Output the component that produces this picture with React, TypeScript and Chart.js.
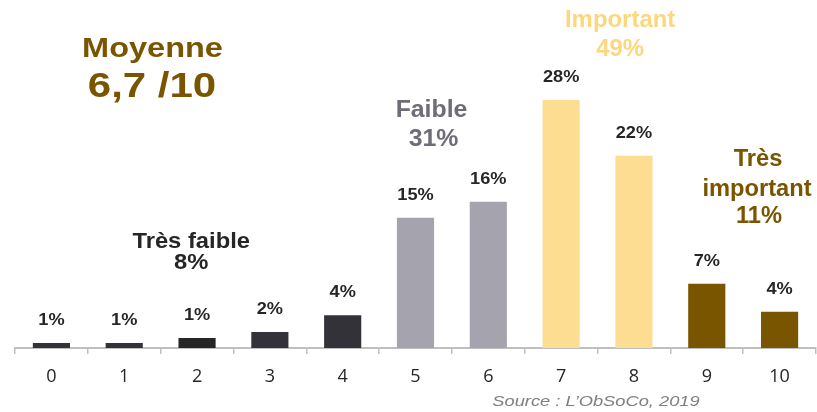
import React, { useEffect, useRef } from "react";
import { Chart, registerables } from "chart.js";

Chart.register(...registerables);

const categories = ["0", "1", "2", "3", "4", "5", "6", "7", "8", "9", "10"];
const values = [0.56, 0.56, 1.13, 1.8, 3.7, 14.7, 16.5, 28, 21.7, 7.26, 4.1];
const valueLabels = ["1%", "1%", "1%", "2%", "4%", "15%", "16%", "28%", "22%", "7%", "4%"];
const barColors = [
  "#333238", "#333238", "#262626", "#333238", "#333238",
  "#a5a4ae", "#a5a4ae",
  "#fddd92", "#fddd92",
  "#7a5500", "#7a5500",
];
const averageTitle = "Moyenne";
const averageValue = "6,7 /10";
const groupTresFaible = ["Très faible", "8%"];
const groupFaible = ["Faible", "31%"];
const groupImportant = ["Important", "49%"];
const groupTresImportant = ["Très", "important", "11%"];
const sourceText = "Source : L\u2019ObSoCo, 2019";

const BROWN = "#7a5500";
const AR = "'Liberation Sans', Arial, sans-serif";

function stretchText(
  ctx: CanvasRenderingContext2D,
  text: string,
  x: number,
  y: number,
  font: string,
  color: string,
  sx: number
) {
  ctx.save();
  ctx.font = font;
  ctx.fillStyle = color;
  ctx.textAlign = "center";
  ctx.textBaseline = "alphabetic";
  ctx.translate(x, y);
  ctx.scale(sx, 1);
  ctx.fillText(text, 0, 0);
  ctx.restore();
}

const annotationPlugin = {
  id: "annotations",
  afterDatasetsDraw(chart: any) {
    const ctx: CanvasRenderingContext2D = chart.ctx;
    const xs = chart.scales.x;
    const meta = chart.getDatasetMeta(0);
    // value labels
    meta.data.forEach((bar: any, i: number) => {
      stretchText(ctx, valueLabels[i], bar.x, bar.y - 18, `bold 17px ${AR}`, "#262626", 1.07);
    });
    // average
    stretchText(ctx, averageTitle, 152.5, 56.7, `bold 28px ${AR}`, BROWN, 1.16);
    stretchText(ctx, averageValue, 152, 97, `bold 35px ${AR}`, BROWN, 1.2);
    // groups
    const xTF = xs.getPixelForValue(1.92);
    stretchText(ctx, groupTresFaible[0], xTF, 248.3, `bold 22px ${AR}`, "#262626", 1.08);
    stretchText(ctx, groupTresFaible[1], xTF, 269.3, `bold 22px ${AR}`, "#262626", 1.08);
    const xF = xs.getPixelForValue(5.22);
    stretchText(ctx, groupFaible[0], xF, 116.7, `bold 23px ${AR}`, "#6d6c78", 1.08);
    stretchText(ctx, groupFaible[1], xF + 2, 146, `bold 23px ${AR}`, "#6d6c78", 1.08);
    const xI = xs.getPixelForValue(7.81);
    stretchText(ctx, groupImportant[0], xI, 27.3, `bold 23px ${AR}`, "#fdd77e", 1.04);
    stretchText(ctx, groupImportant[1], xI, 55.7, `bold 23px ${AR}`, "#fdd77e", 1.04);
    const xTI = xs.getPixelForValue(9.69);
    stretchText(ctx, groupTresImportant[0], xTI + 1, 166, `bold 23px ${AR}`, BROWN, 1.03);
    stretchText(ctx, groupTresImportant[1], xTI, 196, `bold 23px ${AR}`, BROWN, 1.03);
    stretchText(ctx, groupTresImportant[2], xTI + 2, 222.7, `bold 23px ${AR}`, BROWN, 1.03);
    // source
    const fontItalic = `italic 15.5px ${AR}`;
    stretchText(ctx, sourceText, 596, 406, fontItalic, "#7f7f7f", 1.18);
  },
};

export default function App() {
  const ref = useRef<HTMLCanvasElement | null>(null);
  useEffect(() => {
    if (!ref.current) return;
    const chart = new Chart(ref.current, {
      type: "bar",
      data: {
        labels: categories,
        datasets: [
          {
            data: values,
            backgroundColor: barColors,
            borderWidth: 0,
            categoryPercentage: 1,
            barPercentage: 0.51,
          },
        ],
      },
      options: {
        responsive: false,
        animation: false,
        events: [],
        layout: { padding: { left: 15, right: 1, top: 10, bottom: 12.4 } },
        plugins: {
          legend: { display: false },
          title: { display: false },
          tooltip: { enabled: false },
        },
        scales: {
          x: {
            offset: true,
            grid: {
              display: true,
              offset: true,
              drawOnChartArea: false,
              drawTicks: true,
              tickLength: 6,
              color: "#bfbfbf",
              lineWidth: 1.5,
            },
            border: { display: true, color: "#bfbfbf", width: 2 },
            ticks: {
              color: "#262626",
              font: { family: "'Open Sans', sans-serif", size: 18 },
              padding: 12,
              maxRotation: 0,
              autoSkip: false,
            },
          },
          y: {
            display: false,
            min: 0,
            max: 38.16,
          },
        },
      },
      plugins: [annotationPlugin],
    });
    return () => chart.destroy();
  }, []);
  return (
    <div style={{ position: "fixed", left: 0, top: 0, width: 817, height: 412, background: "#fff" }}>
      <canvas ref={ref} width={817} height={412} style={{ display: "block" }} />
    </div>
  );
}
